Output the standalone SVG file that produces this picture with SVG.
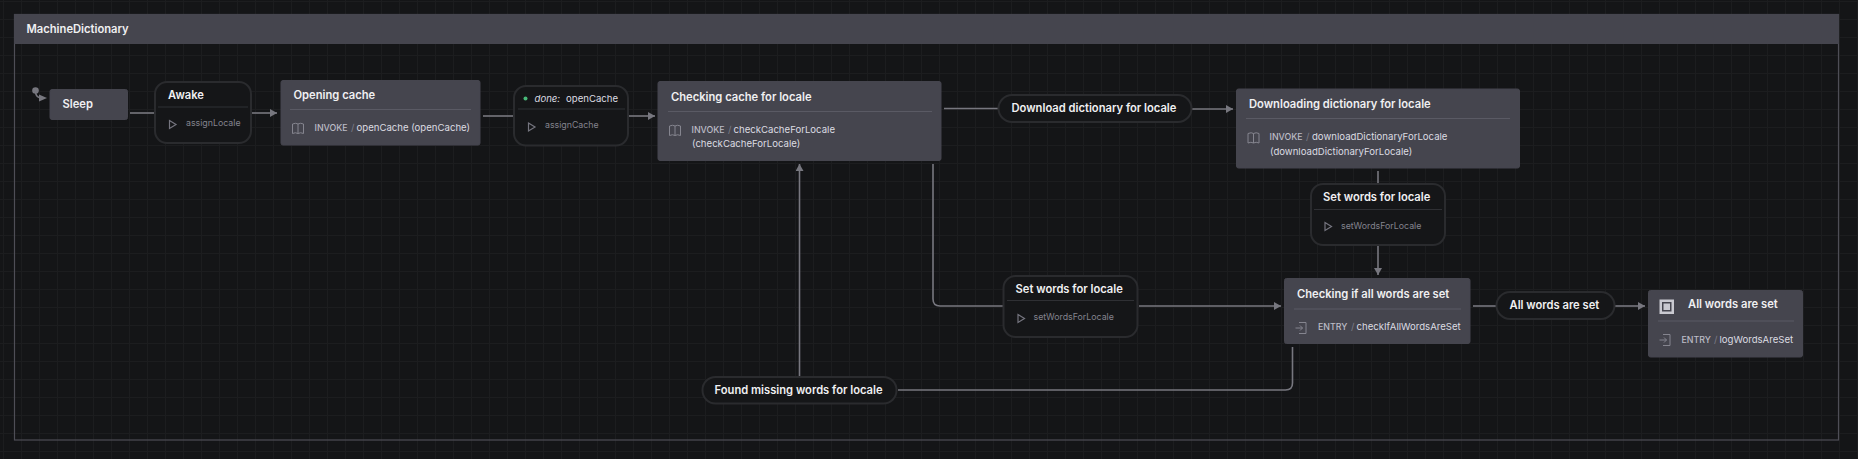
<svg xmlns="http://www.w3.org/2000/svg" width="1858" height="459" viewBox="0 0 1858 459">
<style>
text{font-family:Inter,"Noto Sans","Liberation Sans",sans-serif}
.st{fill:#45454e;stroke:#45454e;stroke-width:1}
.tr{fill:#151618;stroke:#2a2b2e;stroke-width:2}
.t{font-size:11.2px;font-weight:600;fill:#f0f0f2}
.tb{font-size:9.6px;font-weight:400;fill:#dcdce2}
.k{font-size:8.8px;font-weight:500;fill:#bcbcc6}
.s{font-size:9.6px;fill:#7c7c86}
.a{font-size:8.8px;fill:#83838d}
.d{stroke:#5a5a64;stroke-width:1;fill:none}
.dt{stroke:#2f3034;stroke-width:1;fill:none}
.c{stroke:#77777f;stroke-width:1.6;fill:none}
.i{stroke:#85858f;stroke-width:1;fill:none}
.ip{stroke:#75757f;stroke-width:1.2;fill:none}
</style>
<defs>
<pattern id="g" width="18" height="18" patternUnits="userSpaceOnUse" x="3" y="1"><path d="M18 .5H0M.5 0V18" fill="none" stroke="#1c1d1f" stroke-width="1"/></pattern>
<marker id="ar" markerUnits="userSpaceOnUse" markerWidth="8" markerHeight="8" refX="7" refY="4" orient="auto"><path d="M0 0L7 4L0 8Z" fill="#77777f"/></marker>
<g id="play"><path d="M0 0L6.500 4L0 8Z" class="ip"/></g>
<g id="book"><path d="M0 1.500Q3.500 0 5.500 1.500Q8 0 11 1.500V11Q8 9.500 5.500 11Q3 9.500 0 11ZM5.500 1.500V11" class="i"/></g>
<g id="entry"><path d="M3.500 0H10.500V11H3.500M0 5.500H7M4.500 3L7 5.500L4.500 8" class="i"/></g>
</defs>
<rect width="1858" height="459" fill="#141517"/>
<rect width="1858" height="459" fill="url(#g)"/>
<g id="machine"><rect x="14.500" y="14.500" width="1824" height="425.500" fill="none" stroke="#4e4e56" stroke-width="1.200"/><rect x="14" y="14" width="1825" height="30" fill="#45454e"/><text x="26.500" y="32.500" class="t">MachineDictionary</text></g>
<g id="connectors">
<circle cx="35.500" cy="90.500" r="3.300" fill="#77777f"/>
<path class="c" stroke-linecap="round" d="M35.500 92Q36 97.500 41 98" />
<path d="M39 94.500L47 98L39 101.500Z" fill="#77777f"/>
<path class="c" d="M130 113H154"/>
<path class="c" d="M252 113H277" marker-end="url(#ar)"/>
<path class="c" d="M483 116H513"/>
<path class="c" d="M629 116H655" marker-end="url(#ar)"/>
<path class="c" d="M944 108.500H998"/>
<path class="c" d="M1192 109H1233" marker-end="url(#ar)"/>
<path class="c" d="M933 164V299Q933 306 940 306H1003"/>
<path class="c" d="M1139 306H1281" marker-end="url(#ar)"/>
<path class="c" d="M1378 171V184"/>
<path class="c" d="M1378 245V275" marker-end="url(#ar)"/>
<path class="c" d="M1473 306H1496"/>
<path class="c" d="M1615 306H1645" marker-end="url(#ar)"/>
<path class="c" d="M1292.500 347V383Q1292.500 390 1285.500 390H898"/>
<path class="c" d="M799.500 376V164" marker-end="url(#ar)"/>
</g>
<g id="sleep"><rect class="st" x="50" y="89.500" width="77.500" height="30" rx="2"/><text x="62.500" y="108" class="t">Sleep</text></g>
<g id="awake"><rect class="tr" x="155" y="82" width="96" height="61" rx="12"/><text x="168" y="99" class="t">Awake</text><path class="dt" d="M158 107H248"/><use href="#play" x="169.500" y="120.500"/><text x="186" y="126" class="a">assignLocale</text></g>
<g id="opening"><rect class="st" x="281" y="80.500" width="199" height="64.500" rx="2"/><text x="293.500" y="98.500" class="t">Opening cache</text><path class="d" d="M290 109.500H471"/><use href="#book" x="292.500" y="122.500"/><text x="314.500" y="131" class="k">INVOKE</text><text x="351" y="131" class="s">/</text><text x="356.500" y="131" class="tb">openCache (openCache)</text></g>
<g id="done"><rect class="tr" x="514" y="86" width="114" height="59.500" rx="12"/><circle cx="525.500" cy="98.500" r="2" fill="#48b978"/><text x="534.500" y="102" class="tb" font-style="italic">done:</text><text x="566" y="102" class="tb">openCache</text><path class="dt" d="M518 109H625"/><use href="#play" x="528.500" y="123"/><text x="545" y="128" class="a">assignCache</text></g>
<g id="checking"><rect class="st" x="658" y="81.500" width="283" height="79" rx="2"/><text x="671" y="100.500" class="t">Checking cache for locale</text><path class="d" d="M668 111.500H932"/><use href="#book" x="669.500" y="124.500"/><text x="691.500" y="133" class="k">INVOKE</text><text x="728" y="133" class="s">/</text><text x="733.500" y="133" class="tb">checkCacheForLocale</text><text x="692" y="147" class="tb">(checkCacheForLocale)</text></g>
<g id="download"><rect class="tr" x="998.500" y="95" width="193" height="27" rx="13.500"/><text x="1011.500" y="112" class="t">Download dictionary for locale</text></g>
<g id="downloading"><rect class="st" x="1236.500" y="89" width="283" height="79" rx="2"/><text x="1249" y="107.500" class="t">Downloading dictionary for locale</text><path class="d" d="M1246 118.500H1510"/><use href="#book" x="1248" y="132"/><text x="1269.500" y="140" class="k">INVOKE</text><text x="1306" y="140" class="s">/</text><text x="1312" y="140" class="tb">downloadDictionaryForLocale</text><text x="1270" y="155" class="tb">(downloadDictionaryForLocale)</text></g>
<g id="setwords2"><rect class="tr" x="1311" y="184" width="134" height="61" rx="12"/><text x="1323" y="201" class="t">Set words for locale</text><path class="dt" d="M1314 209.500H1442"/><use href="#play" x="1325" y="222.500"/><text x="1341" y="229" class="a">setWordsForLocale</text></g>
<g id="setwords1"><rect class="tr" x="1003.500" y="276" width="134" height="61" rx="12"/><text x="1015.500" y="293" class="t">Set words for locale</text><path class="dt" d="M1007 300.500H1134"/><use href="#play" x="1018" y="314.500"/><text x="1033.500" y="320" class="a">setWordsForLocale</text></g>
<g id="checkall"><rect class="st" x="1284.500" y="278.500" width="185.500" height="65" rx="2"/><text x="1297" y="297.500" class="t">Checking if all words are set</text><path class="d" d="M1294 309H1461"/><use href="#entry" x="1295.500" y="322.500"/><text x="1318" y="330" class="k">ENTRY</text><text x="1351" y="330" class="s">/</text><text x="1356.500" y="330" class="tb">checkIfAllWordsAreSet</text></g>
<g id="allset"><rect class="tr" x="1496.500" y="292" width="118" height="27" rx="13.500"/><text x="1509.500" y="309" class="t">All words are set</text></g>
<g id="final"><rect class="st" x="1648.500" y="290.500" width="154" height="66.500" rx="2"/><rect x="1660" y="300" width="13.500" height="13.500" fill="#c9c9d0" stroke="#c9c9d0" stroke-width="1"/><rect x="1662" y="302" width="9.500" height="9.500" fill="#45454e"/><rect x="1663.500" y="303.500" width="6.500" height="6.500" fill="#c9c9d0"/><text x="1688" y="308" class="t">All words are set</text><path class="d" d="M1658 321H1794"/><use href="#entry" x="1659.500" y="334.500"/><text x="1681.500" y="343" class="k">ENTRY</text><text x="1714" y="343" class="s">/</text><text x="1719.500" y="343" class="tb">logWordsAreSet</text></g>
<g id="found"><rect class="tr" x="702.500" y="377" width="194" height="26.500" rx="13"/><text x="714.500" y="394" class="t">Found missing words for locale</text></g>
</svg>
